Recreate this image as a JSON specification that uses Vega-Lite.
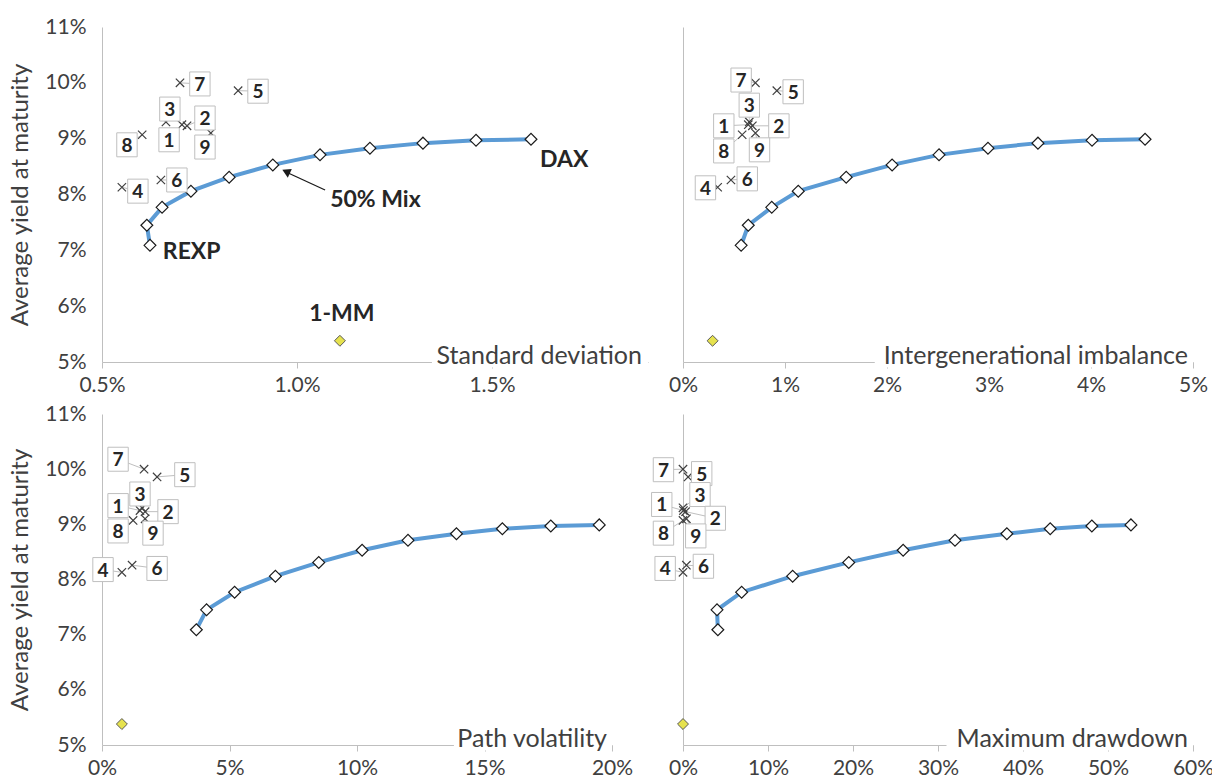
{
  "$schema": "https://vega.github.io/schema/vega-lite/v6.json",
  "background": "white",
  "padding": {"left": 8, "top": 16, "right": 5, "bottom": 5},
  "columns": 2,
  "spacing": {"row": 52, "column": 35},
  "bounds": "flush",
  "datasets": {
    "curve": [
      {"p":"sd","i":0,"x":0.623,"y":7.09},{"p":"sd","i":1,"x":0.615,"y":7.45},{"p":"sd","i":2,"x":0.654,"y":7.77},{"p":"sd","i":3,"x":0.728,"y":8.06},{"p":"sd","i":4,"x":0.826,"y":8.31},{"p":"sd","i":5,"x":0.938,"y":8.53},{"p":"sd","i":6,"x":1.059,"y":8.71},{"p":"sd","i":7,"x":1.187,"y":8.83},{"p":"sd","i":8,"x":1.323,"y":8.92},{"p":"sd","i":9,"x":1.459,"y":8.97},{"p":"sd","i":10,"x":1.600,"y":8.99},
      {"p":"ii","i":0,"x":0.57,"y":7.09},{"p":"ii","i":1,"x":0.64,"y":7.45},{"p":"ii","i":2,"x":0.87,"y":7.77},{"p":"ii","i":3,"x":1.13,"y":8.06},{"p":"ii","i":4,"x":1.60,"y":8.31},{"p":"ii","i":5,"x":2.05,"y":8.53},{"p":"ii","i":6,"x":2.51,"y":8.71},{"p":"ii","i":7,"x":2.99,"y":8.83},{"p":"ii","i":8,"x":3.48,"y":8.92},{"p":"ii","i":9,"x":4.01,"y":8.97},{"p":"ii","i":10,"x":4.53,"y":8.99},
      {"p":"pv","i":0,"x":3.7,"y":7.09},{"p":"pv","i":1,"x":4.1,"y":7.45},{"p":"pv","i":2,"x":5.2,"y":7.77},{"p":"pv","i":3,"x":6.8,"y":8.06},{"p":"pv","i":4,"x":8.5,"y":8.31},{"p":"pv","i":5,"x":10.2,"y":8.53},{"p":"pv","i":6,"x":12.0,"y":8.71},{"p":"pv","i":7,"x":13.9,"y":8.83},{"p":"pv","i":8,"x":15.7,"y":8.92},{"p":"pv","i":9,"x":17.6,"y":8.97},{"p":"pv","i":10,"x":19.5,"y":8.99},
      {"p":"md","i":0,"x":4.1,"y":7.09},{"p":"md","i":1,"x":4.0,"y":7.45},{"p":"md","i":2,"x":6.9,"y":7.77},{"p":"md","i":3,"x":12.9,"y":8.06},{"p":"md","i":4,"x":19.5,"y":8.31},{"p":"md","i":5,"x":25.9,"y":8.53},{"p":"md","i":6,"x":32.0,"y":8.71},{"p":"md","i":7,"x":38.1,"y":8.83},{"p":"md","i":8,"x":43.2,"y":8.92},{"p":"md","i":9,"x":48.1,"y":8.97},{"p":"md","i":10,"x":52.7,"y":8.99}
    ],
    "pts": [
      {"p":"sd","id":"7","x":0.700,"y":10.00,"lx":0.751,"ly":9.98},
      {"p":"sd","id":"5","x":0.849,"y":9.86,"lx":0.900,"ly":9.85},
      {"p":"sd","id":"3","x":0.664,"y":9.30,"lx":0.674,"ly":9.53},
      {"p":"sd","id":"1","x":0.705,"y":9.25,"lx":0.672,"ly":8.98},
      {"p":"sd","id":"2","x":0.718,"y":9.23,"lx":0.764,"ly":9.37},
      {"p":"sd","id":"9","x":0.779,"y":9.10,"lx":0.764,"ly":8.85},
      {"p":"sd","id":"8","x":0.603,"y":9.07,"lx":0.564,"ly":8.89},
      {"p":"sd","id":"6","x":0.651,"y":8.26,"lx":0.692,"ly":8.26},
      {"p":"sd","id":"4","x":0.551,"y":8.13,"lx":0.592,"ly":8.06},
      {"p":"ii","id":"7","x":0.71,"y":10.00,"lx":0.57,"ly":10.05},
      {"p":"ii","id":"5","x":0.92,"y":9.86,"lx":1.08,"ly":9.84},
      {"p":"ii","id":"3","x":0.65,"y":9.30,"lx":0.65,"ly":9.60},
      {"p":"ii","id":"1","x":0.64,"y":9.25,"lx":0.40,"ly":9.23},
      {"p":"ii","id":"2","x":0.68,"y":9.23,"lx":0.94,"ly":9.23},
      {"p":"ii","id":"9","x":0.71,"y":9.10,"lx":0.75,"ly":8.80},
      {"p":"ii","id":"8","x":0.58,"y":9.07,"lx":0.40,"ly":8.78},
      {"p":"ii","id":"6","x":0.47,"y":8.26,"lx":0.63,"ly":8.28},
      {"p":"ii","id":"4","x":0.34,"y":8.13,"lx":0.22,"ly":8.12},
      {"p":"pv","id":"7","x":1.65,"y":10.00,"lx":0.63,"ly":10.18},
      {"p":"pv","id":"5","x":2.16,"y":9.86,"lx":3.25,"ly":9.90},
      {"p":"pv","id":"3","x":1.57,"y":9.30,"lx":1.49,"ly":9.55},
      {"p":"pv","id":"1","x":1.49,"y":9.25,"lx":0.63,"ly":9.34},
      {"p":"pv","id":"2","x":1.69,"y":9.23,"lx":2.59,"ly":9.23},
      {"p":"pv","id":"9","x":1.69,"y":9.10,"lx":2.00,"ly":8.84},
      {"p":"pv","id":"8","x":1.22,"y":9.07,"lx":0.63,"ly":8.88},
      {"p":"pv","id":"6","x":1.18,"y":8.26,"lx":2.16,"ly":8.20},
      {"p":"pv","id":"4","x":0.78,"y":8.13,"lx":0.04,"ly":8.18},
      {"p":"md","id":"7","x":0.0,"y":10.00,"lx":-2.3,"ly":9.99},
      {"p":"md","id":"5","x":0.6,"y":9.86,"lx":2.2,"ly":9.92},
      {"p":"md","id":"3","x":0.0,"y":9.30,"lx":2.0,"ly":9.54},
      {"p":"md","id":"1","x":0.05,"y":9.25,"lx":-2.5,"ly":9.36},
      {"p":"md","id":"2","x":0.3,"y":9.23,"lx":3.8,"ly":9.11},
      {"p":"md","id":"9","x":0.4,"y":9.10,"lx":1.5,"ly":8.79},
      {"p":"md","id":"8","x":0.0,"y":9.07,"lx":-2.3,"ly":8.84},
      {"p":"md","id":"6","x":0.4,"y":8.26,"lx":2.4,"ly":8.24},
      {"p":"md","id":"4","x":0.0,"y":8.13,"lx":-2.1,"ly":8.20}
    ],
    "mm": [
      {"p":"sd","x":1.11,"y":5.38},
      {"p":"ii","x":0.29,"y":5.38},
      {"p":"pv","x":0.78,"y":5.38},
      {"p":"md","x":0.0,"y":5.38}
    ],
    "notes": [
      {"text":"DAX","x":1.623,"y":8.62},
      {"text":"REXP","x":0.656,"y":6.97},
      {"text":"50% Mix","x":1.085,"y":7.90}
    ]
  },
  "concat": [
    {
      "width": 546, "height": 335,
      "layer": [
        {"data": {"values": [{}]}, "mark": {"type": "rect", "fill": "white"},
         "encoding": {"x": {"datum": 1.346}, "x2": {"datum": 1.9}, "y": {"datum": 4.9}, "y2": {"datum": 5.42}}},
        {"data": {"values": [{}]}, "mark": {"type": "text", "text": "Standard deviation", "align": "right", "baseline": "alphabetic", "dx": -6, "dy": 2, "fontSize": 25, "color": "#404040"},
         "encoding": {"x": {"datum": 1.9}, "y": {"datum": 5}}},
        {"data": {"name": "curve"}, "transform": [{"filter": "datum.p == 'sd'"}],
         "mark": {"type": "line", "color": "#5b9bd5", "strokeWidth": 4},
         "encoding": {
           "x": {"field": "x", "type": "quantitative", "scale": {"domain": [0.5, 1.9], "nice": false, "zero": false},
                 "axis": {"values": [0.5, 1.0, 1.5], "labelExpr": "format(datum.value, '.1f') + '%'", "title": null}},
           "y": {"field": "y", "type": "quantitative", "scale": {"domain": [5, 11], "nice": false, "zero": false},
                 "axis": {"values": [5, 6, 7, 8, 9, 10, 11], "labelExpr": "datum.value + '%'", "title": "Average yield at maturity"}},
           "order": {"field": "i"}}},
        {"data": {"name": "curve"}, "transform": [{"filter": "datum.p == 'sd'"}],
         "mark": {"type": "point", "shape": "diamond", "filled": true, "fill": "white", "stroke": "#1a1a1a", "strokeWidth": 1.2, "size": 140, "opacity": 1},
         "encoding": {"x": {"field": "x", "type": "quantitative"}, "y": {"field": "y", "type": "quantitative"}}},
        {"data": {"name": "mm"}, "transform": [{"filter": "datum.p == 'sd'"}],
         "mark": {"type": "point", "shape": "diamond", "filled": true, "fill": "#e6e24e", "stroke": "#595959", "strokeWidth": 1, "size": 120, "opacity": 1},
         "encoding": {"x": {"field": "x", "type": "quantitative"}, "y": {"field": "y", "type": "quantitative"}}},
        {"data": {"name": "pts"}, "transform": [{"filter": "datum.p == 'sd'"}],
         "mark": {"type": "rule", "color": "#bfbfbf", "strokeWidth": 1},
         "encoding": {"x": {"field": "x", "type": "quantitative"}, "y": {"field": "y", "type": "quantitative"}, "x2": {"field": "lx"}, "y2": {"field": "ly"}}},
        {"data": {"name": "pts"}, "transform": [{"filter": "datum.p == 'sd'"}],
         "mark": {"type": "point", "shape": "M-1,-1L1,1M-1,1L1,-1", "filled": false, "stroke": "#404040", "strokeWidth": 1.2, "size": 70, "opacity": 1},
         "encoding": {"x": {"field": "x", "type": "quantitative"}, "y": {"field": "y", "type": "quantitative"}}},
        {"data": {"name": "pts"}, "transform": [{"filter": "datum.p == 'sd'"}],
         "mark": {"type": "point", "shape": "M-0.85,-1L0.85,-1L0.85,1L-0.85,1Z", "filled": true, "fill": "white", "stroke": "#bfbfbf", "strokeWidth": 1, "size": 576, "opacity": 1},
         "encoding": {"x": {"field": "lx", "type": "quantitative"}, "y": {"field": "ly", "type": "quantitative"}}},
        {"data": {"name": "pts"}, "transform": [{"filter": "datum.p == 'sd'"}],
         "mark": {"type": "text", "fontWeight": "bold", "fontSize": 19, "color": "#262626", "align": "center", "baseline": "middle", "dy": 1},
         "encoding": {"x": {"field": "lx", "type": "quantitative"}, "y": {"field": "ly", "type": "quantitative"}, "text": {"field": "id", "type": "nominal"}}},
        {"data": {"name": "notes"},
         "mark": {"type": "text", "fontWeight": "bold", "fontSize": 23, "color": "#262626", "align": "left", "baseline": "middle"},
         "encoding": {"x": {"field": "x", "type": "quantitative"}, "y": {"field": "y", "type": "quantitative"}, "text": {"field": "text", "type": "nominal"}}},
        {"data": {"values": [{}]},
         "mark": {"type": "text", "text": "1-MM", "fontWeight": "bold", "fontSize": 23, "color": "#262626", "align": "center", "baseline": "middle"},
         "encoding": {"x": {"datum": 1.115}, "y": {"datum": 5.86}}},
        {"data": {"values": [{}]}, "mark": {"type": "rule", "color": "#1a1a1a", "strokeWidth": 1.3},
         "encoding": {"x": {"datum": 1.072}, "y": {"datum": 8.08}, "x2": {"datum": 0.976}, "y2": {"datum": 8.39}}},
        {"data": {"values": [{}]}, "mark": {"type": "point", "shape": "triangle-up", "angle": 295, "filled": true, "color": "#1a1a1a", "size": 90, "opacity": 1},
         "encoding": {"x": {"datum": 0.972}, "y": {"datum": 8.41}}}
      ]
    },
    {
      "width": 510, "height": 335,
      "layer": [
        {"data": {"values": [{}]}, "mark": {"type": "rect", "fill": "white"},
         "encoding": {"x": {"datum": 1.88}, "x2": {"datum": 5}, "y": {"datum": 4.9}, "y2": {"datum": 5.42}}},
        {"data": {"values": [{}]}, "mark": {"type": "text", "text": "Intergenerational imbalance", "align": "right", "baseline": "alphabetic", "dx": -5, "dy": 2, "fontSize": 25, "color": "#404040"},
         "encoding": {"x": {"datum": 5}, "y": {"datum": 5}}},
        {"data": {"name": "curve"}, "transform": [{"filter": "datum.p == 'ii'"}],
         "mark": {"type": "line", "color": "#5b9bd5", "strokeWidth": 4},
         "encoding": {
           "x": {"field": "x", "type": "quantitative", "scale": {"domain": [0, 5], "nice": false, "zero": false},
                 "axis": {"values": [0, 1, 2, 3, 4, 5], "labelExpr": "datum.value + '%'", "title": null}},
           "y": {"field": "y", "type": "quantitative", "scale": {"domain": [5, 11], "nice": false, "zero": false},
                 "axis": {"values": [5, 6, 7, 8, 9, 10, 11], "labels": false, "ticks": false, "title": null}},
           "order": {"field": "i"}}},
        {"data": {"name": "curve"}, "transform": [{"filter": "datum.p == 'ii'"}],
         "mark": {"type": "point", "shape": "diamond", "filled": true, "fill": "white", "stroke": "#1a1a1a", "strokeWidth": 1.2, "size": 140, "opacity": 1},
         "encoding": {"x": {"field": "x", "type": "quantitative"}, "y": {"field": "y", "type": "quantitative"}}},
        {"data": {"name": "mm"}, "transform": [{"filter": "datum.p == 'ii'"}],
         "mark": {"type": "point", "shape": "diamond", "filled": true, "fill": "#e6e24e", "stroke": "#595959", "strokeWidth": 1, "size": 120, "opacity": 1},
         "encoding": {"x": {"field": "x", "type": "quantitative"}, "y": {"field": "y", "type": "quantitative"}}},
        {"data": {"name": "pts"}, "transform": [{"filter": "datum.p == 'ii'"}],
         "mark": {"type": "rule", "color": "#bfbfbf", "strokeWidth": 1},
         "encoding": {"x": {"field": "x", "type": "quantitative"}, "y": {"field": "y", "type": "quantitative"}, "x2": {"field": "lx"}, "y2": {"field": "ly"}}},
        {"data": {"name": "pts"}, "transform": [{"filter": "datum.p == 'ii'"}],
         "mark": {"type": "point", "shape": "M-1,-1L1,1M-1,1L1,-1", "filled": false, "stroke": "#404040", "strokeWidth": 1.2, "size": 70, "opacity": 1},
         "encoding": {"x": {"field": "x", "type": "quantitative"}, "y": {"field": "y", "type": "quantitative"}}},
        {"data": {"name": "pts"}, "transform": [{"filter": "datum.p == 'ii'"}],
         "mark": {"type": "point", "shape": "M-0.85,-1L0.85,-1L0.85,1L-0.85,1Z", "filled": true, "fill": "white", "stroke": "#bfbfbf", "strokeWidth": 1, "size": 576, "opacity": 1},
         "encoding": {"x": {"field": "lx", "type": "quantitative"}, "y": {"field": "ly", "type": "quantitative"}}},
        {"data": {"name": "pts"}, "transform": [{"filter": "datum.p == 'ii'"}],
         "mark": {"type": "text", "fontWeight": "bold", "fontSize": 19, "color": "#262626", "align": "center", "baseline": "middle", "dy": 1},
         "encoding": {"x": {"field": "lx", "type": "quantitative"}, "y": {"field": "ly", "type": "quantitative"}, "text": {"field": "id", "type": "nominal"}}}
      ]
    },
    {
      "width": 510, "height": 331,
      "layer": [
        {"data": {"values": [{}]}, "mark": {"type": "rect", "fill": "white"},
         "encoding": {"x": {"datum": 13.8}, "x2": {"datum": 20}, "y": {"datum": 4.9}, "y2": {"datum": 5.42}}},
        {"data": {"values": [{}]}, "mark": {"type": "text", "text": "Path volatility", "align": "right", "baseline": "alphabetic", "dx": -5, "dy": 2, "fontSize": 25, "color": "#404040"},
         "encoding": {"x": {"datum": 20}, "y": {"datum": 5}}},
        {"data": {"name": "curve"}, "transform": [{"filter": "datum.p == 'pv'"}],
         "mark": {"type": "line", "color": "#5b9bd5", "strokeWidth": 4},
         "encoding": {
           "x": {"field": "x", "type": "quantitative", "scale": {"domain": [0, 20], "nice": false, "zero": false},
                 "axis": {"values": [0, 5, 10, 15, 20], "labelExpr": "datum.value + '%'", "title": null}},
           "y": {"field": "y", "type": "quantitative", "scale": {"domain": [5, 11], "nice": false, "zero": false},
                 "axis": {"values": [5, 6, 7, 8, 9, 10, 11], "labelExpr": "datum.value + '%'", "title": "Average yield at maturity"}},
           "order": {"field": "i"}}},
        {"data": {"name": "curve"}, "transform": [{"filter": "datum.p == 'pv'"}],
         "mark": {"type": "point", "shape": "diamond", "filled": true, "fill": "white", "stroke": "#1a1a1a", "strokeWidth": 1.2, "size": 140, "opacity": 1},
         "encoding": {"x": {"field": "x", "type": "quantitative"}, "y": {"field": "y", "type": "quantitative"}}},
        {"data": {"name": "mm"}, "transform": [{"filter": "datum.p == 'pv'"}],
         "mark": {"type": "point", "shape": "diamond", "filled": true, "fill": "#e6e24e", "stroke": "#595959", "strokeWidth": 1, "size": 120, "opacity": 1},
         "encoding": {"x": {"field": "x", "type": "quantitative"}, "y": {"field": "y", "type": "quantitative"}}},
        {"data": {"name": "pts"}, "transform": [{"filter": "datum.p == 'pv'"}],
         "mark": {"type": "rule", "color": "#bfbfbf", "strokeWidth": 1},
         "encoding": {"x": {"field": "x", "type": "quantitative"}, "y": {"field": "y", "type": "quantitative"}, "x2": {"field": "lx"}, "y2": {"field": "ly"}}},
        {"data": {"name": "pts"}, "transform": [{"filter": "datum.p == 'pv'"}],
         "mark": {"type": "point", "shape": "M-1,-1L1,1M-1,1L1,-1", "filled": false, "stroke": "#404040", "strokeWidth": 1.2, "size": 70, "opacity": 1},
         "encoding": {"x": {"field": "x", "type": "quantitative"}, "y": {"field": "y", "type": "quantitative"}}},
        {"data": {"name": "pts"}, "transform": [{"filter": "datum.p == 'pv'"}],
         "mark": {"type": "point", "shape": "M-0.85,-1L0.85,-1L0.85,1L-0.85,1Z", "filled": true, "fill": "white", "stroke": "#bfbfbf", "strokeWidth": 1, "size": 576, "opacity": 1},
         "encoding": {"x": {"field": "lx", "type": "quantitative"}, "y": {"field": "ly", "type": "quantitative"}}},
        {"data": {"name": "pts"}, "transform": [{"filter": "datum.p == 'pv'"}],
         "mark": {"type": "text", "fontWeight": "bold", "fontSize": 19, "color": "#262626", "align": "center", "baseline": "middle", "dy": 1},
         "encoding": {"x": {"field": "lx", "type": "quantitative"}, "y": {"field": "ly", "type": "quantitative"}, "text": {"field": "id", "type": "nominal"}}}
      ]
    },
    {
      "width": 510, "height": 331,
      "layer": [
        {"data": {"values": [{}]}, "mark": {"type": "rect", "fill": "white"},
         "encoding": {"x": {"datum": 31}, "x2": {"datum": 60}, "y": {"datum": 4.9}, "y2": {"datum": 5.42}}},
        {"data": {"values": [{}]}, "mark": {"type": "text", "text": "Maximum drawdown", "align": "right", "baseline": "alphabetic", "dx": -5, "dy": 2, "fontSize": 25, "color": "#404040"},
         "encoding": {"x": {"datum": 60}, "y": {"datum": 5}}},
        {"data": {"name": "curve"}, "transform": [{"filter": "datum.p == 'md'"}],
         "mark": {"type": "line", "color": "#5b9bd5", "strokeWidth": 4},
         "encoding": {
           "x": {"field": "x", "type": "quantitative", "scale": {"domain": [0, 60], "nice": false, "zero": false},
                 "axis": {"values": [0, 10, 20, 30, 40, 50, 60], "labelExpr": "datum.value + '%'", "title": null}},
           "y": {"field": "y", "type": "quantitative", "scale": {"domain": [5, 11], "nice": false, "zero": false},
                 "axis": {"values": [5, 6, 7, 8, 9, 10, 11], "labels": false, "ticks": false, "title": null}},
           "order": {"field": "i"}}},
        {"data": {"name": "curve"}, "transform": [{"filter": "datum.p == 'md'"}],
         "mark": {"type": "point", "shape": "diamond", "filled": true, "fill": "white", "stroke": "#1a1a1a", "strokeWidth": 1.2, "size": 140, "opacity": 1},
         "encoding": {"x": {"field": "x", "type": "quantitative"}, "y": {"field": "y", "type": "quantitative"}}},
        {"data": {"name": "mm"}, "transform": [{"filter": "datum.p == 'md'"}],
         "mark": {"type": "point", "shape": "diamond", "filled": true, "fill": "#e6e24e", "stroke": "#595959", "strokeWidth": 1, "size": 120, "opacity": 1},
         "encoding": {"x": {"field": "x", "type": "quantitative"}, "y": {"field": "y", "type": "quantitative"}}},
        {"data": {"name": "pts"}, "transform": [{"filter": "datum.p == 'md'"}],
         "mark": {"type": "rule", "color": "#bfbfbf", "strokeWidth": 1},
         "encoding": {"x": {"field": "x", "type": "quantitative"}, "y": {"field": "y", "type": "quantitative"}, "x2": {"field": "lx"}, "y2": {"field": "ly"}}},
        {"data": {"name": "pts"}, "transform": [{"filter": "datum.p == 'md'"}],
         "mark": {"type": "point", "shape": "M-1,-1L1,1M-1,1L1,-1", "filled": false, "stroke": "#404040", "strokeWidth": 1.2, "size": 70, "opacity": 1},
         "encoding": {"x": {"field": "x", "type": "quantitative"}, "y": {"field": "y", "type": "quantitative"}}},
        {"data": {"name": "pts"}, "transform": [{"filter": "datum.p == 'md'"}],
         "mark": {"type": "point", "shape": "M-0.85,-1L0.85,-1L0.85,1L-0.85,1Z", "filled": true, "fill": "white", "stroke": "#bfbfbf", "strokeWidth": 1, "size": 576, "opacity": 1},
         "encoding": {"x": {"field": "lx", "type": "quantitative"}, "y": {"field": "ly", "type": "quantitative"}}},
        {"data": {"name": "pts"}, "transform": [{"filter": "datum.p == 'md'"}],
         "mark": {"type": "text", "fontWeight": "bold", "fontSize": 19, "color": "#262626", "align": "center", "baseline": "middle", "dy": 1},
         "encoding": {"x": {"field": "lx", "type": "quantitative"}, "y": {"field": "ly", "type": "quantitative"}, "text": {"field": "id", "type": "nominal"}}}
      ]
    }
  ],
  "config": {
    "view": {"stroke": null},
    "font": "Lato",
    "text": {"font": "Lato"},
    "axis": {"gridColor": "#d9d9d9", "gridWidth": 1, "domainColor": "#bfbfbf", "domainWidth": 1, "tickColor": "#bfbfbf",
             "labelFont": "Lato", "labelFontSize": 21, "labelColor": "#404040", "labelOverlap": false,
             "titleFont": "Lato", "titleFontSize": 24, "titleFontWeight": "normal", "titleColor": "#404040"},
    "axisX": {"tickSize": 6, "labelPadding": 6, "labelFlush": false},
    "axisY": {"ticks": false, "labelPadding": 16, "titlePadding": 12}
  }
}
